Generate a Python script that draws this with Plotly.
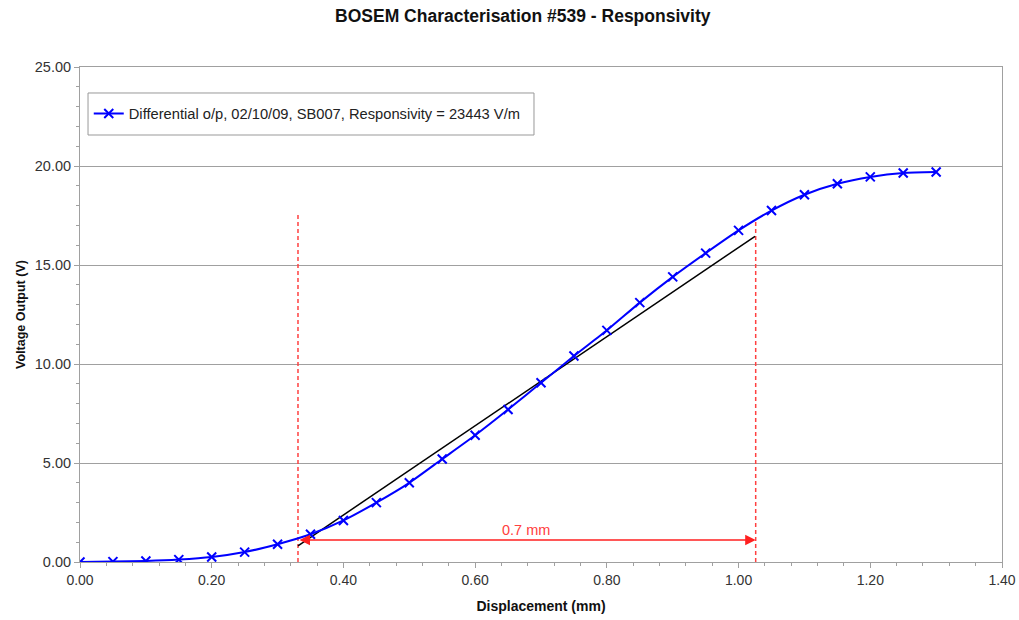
import plotly.graph_objects as go

# Data
displacement_mm = [0.00, 0.05, 0.10, 0.15, 0.20, 0.25, 0.30, 0.35, 0.40, 0.45, 0.50, 0.55, 0.60, 0.65,
                   0.70, 0.75, 0.80, 0.85, 0.90, 0.95, 1.00, 1.05, 1.10, 1.15, 1.20, 1.25, 1.30]
voltage_v = [0.00, 0.02, 0.05, 0.12, 0.25, 0.50, 0.90, 1.40, 2.10, 3.00, 4.00, 5.20, 6.40, 7.70,
             9.05, 10.40, 11.70, 13.10, 14.40, 15.60, 16.75, 17.75, 18.55, 19.10, 19.45, 19.65, 19.70]
series_name = "Differential o/p, 02/10/09, SB007, Responsivity = 23443 V/m"

fit_x = [0.331, 1.025]
fit_y = [0.82, 16.45]

guide_left_x = [0.331, 0.331]
guide_left_y = [0.0, 17.6]
guide_right_x = [1.026, 1.026]
guide_right_y = [0.0, 17.3]

arrow_y = 1.11
arrow_label = "0.7 mm"

FONT = "Liberation Sans, Arial, sans-serif"

fig = go.Figure()

fig.add_trace(go.Scatter(x=guide_left_x, y=guide_left_y, mode="lines",
                         line=dict(color="#ff4040", width=1.5, dash="4px,3px"),
                         showlegend=False, hoverinfo="skip"))
fig.add_trace(go.Scatter(x=guide_right_x, y=guide_right_y, mode="lines",
                         line=dict(color="#ff4040", width=1.5, dash="4px,3px"),
                         showlegend=False, hoverinfo="skip"))
fig.add_trace(go.Scatter(x=fit_x, y=fit_y, mode="lines",
                         line=dict(color="black", width=1.5),
                         showlegend=False, hoverinfo="skip"))
fig.add_trace(go.Scatter(x=displacement_mm, y=voltage_v, mode="lines+markers",
                         name=series_name, line=dict(color="#0000ff", width=2, shape="spline", smoothing=0.6),
                         marker=dict(symbol="x-thin", size=9, color="#0000ff",
                                     line=dict(color="#0000ff", width=2))))

fig.add_annotation(x=guide_right_x[0], y=arrow_y, ax=guide_left_x[0], ay=arrow_y,
                   xref="x", yref="y", axref="x", ayref="y", text="",
                   showarrow=True, arrowhead=2, startarrowhead=2, arrowside="end+start",
                   arrowsize=1.4, startarrowsize=1.4, arrowwidth=1.5, arrowcolor="#ff2020")
fig.add_annotation(x=0.677, y=arrow_y, yshift=10, xref="x", yref="y", text=arrow_label,
                   showarrow=False, font=dict(color="#ff4040", size=14.5, family=FONT))

# legend frame
fig.add_shape(type="rect", xref="paper", yref="paper", x0=0.0087, x1=0.4924, y0=0.8626, y1=0.9475,
              line=dict(color="#999999", width=1), fillcolor="white", layer="below")

fig.update_layout(
    width=1019, height=620,
    margin=dict(l=80, r=17, t=67, b=58),
    paper_bgcolor="white", plot_bgcolor="white",
    font=dict(family=FONT, size=13, color="#222222"),
    title=dict(text="<b>BOSEM Characterisation #539 - Responsivity</b>", x=0.513, xanchor="center",
               y=0.975, yanchor="middle", font=dict(size=17.5, color="#111111")),
    showlegend=True,
    legend=dict(x=0.0095, y=0.905, xanchor="left", yanchor="middle", bgcolor="rgba(0,0,0,0)",
                borderwidth=0, font=dict(size=14.7, color="#222222")),
)

fig.update_xaxes(range=[0, 1.4], dtick=0.2, tick0=0, tickformat=".2f", automargin=False,
                 showgrid=False, zeroline=False, showline=True, linecolor="#a0a0a0", linewidth=1,
                 mirror=True, ticks="outside", ticklen=5, tickcolor="#a0a0a0",
                 minor=dict(dtick=0.04, ticks="outside", ticklen=3, tickcolor="#a0a0a0"),
                 tickfont=dict(size=14, color="#333333"),
                 title=dict(text="<b>Displacement (mm)</b>", font=dict(size=14, color="#111111"), standoff=14))
fig.update_yaxes(range=[0, 25], dtick=5, tick0=0, tickformat=".2f", automargin=False,
                 showgrid=True, gridcolor="#a0a0a0", gridwidth=1, zeroline=False,
                 showline=True, linecolor="#a0a0a0", linewidth=1, mirror=True,
                 ticks="outside", ticklen=5, tickcolor="#a0a0a0",
                 minor=dict(dtick=1, ticks="outside", ticklen=3, tickcolor="#a0a0a0", showgrid=False),
                 tickfont=dict(size=14.5, color="#333333"),
                 title=dict(text="<b>Voltage Output (V)</b>", font=dict(size=12.5, color="#111111"), standoff=6))

fig.write_html("out.html")
